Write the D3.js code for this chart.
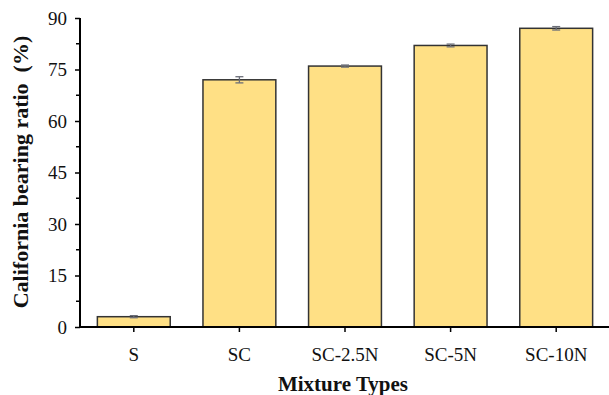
<!DOCTYPE html>
<html>
<head>
<meta charset="utf-8">
<script src="https://cdn.jsdelivr.net/npm/d3@7"></script>
<style>
  html, body { margin: 0; padding: 0; background: #fff; }
  svg { display: block; }
  text { font-family: "Liberation Serif", "Times New Roman", serif; fill: #111; }
</style>
</head>
<body>
<svg id="chart" width="609" height="395"></svg>
<script>
// CBR results per mixture
const categories = ["S", "SC", "SC-2.5N", "SC-5N", "SC-10N"];
const cbrValues = [3, 72, 76, 82, 87];
const cbrErrors = [0.3, 0.9, 0.3, 0.4, 0.5];
const yTicks = [0, 15, 30, 45, 60, 75, 90];
const yMinorTicks = [7.5, 22.5, 37.5, 52.5, 67.5, 82.5];

const svg = d3.select("#chart");
const margin = { top: 18, right: 0, bottom: 68, left: 81 };
const width = 609, height = 395;
const serif = "Liberation Serif, Times New Roman, serif";

const x = d3.scaleBand()
  .domain(categories)
  .range([margin.left, width - margin.right])
  .paddingInner(0.31)
  .paddingOuter(0.155);

const y = d3.scaleLinear()
  .domain([0, 90])
  .range([327, 18]);

const g = svg.append("g");

// bars
g.selectAll("rect.bar")
  .data(categories)
  .join("rect")
  .attr("class", "bar")
  .attr("x", d => x(d))
  .attr("y", (d, i) => y(cbrValues[i]))
  .attr("width", x.bandwidth())
  .attr("height", (d, i) => y(0) - y(cbrValues[i]))
  .attr("fill", "#FFE085")
  .attr("stroke", "#333")
  .attr("stroke-width", 1.5);

// error bars
const capW = 4;
const eb = g.selectAll("g.err")
  .data(categories)
  .join("g")
  .attr("class", "err")
  .attr("stroke", "#6b6e78")
  .attr("stroke-width", 1.3);
eb.append("line")
  .attr("x1", d => x(d) + x.bandwidth() / 2)
  .attr("x2", d => x(d) + x.bandwidth() / 2)
  .attr("y1", (d, i) => y(cbrValues[i] + cbrErrors[i]))
  .attr("y2", (d, i) => y(cbrValues[i] - cbrErrors[i]));
eb.append("line")
  .attr("x1", d => x(d) + x.bandwidth() / 2 - capW)
  .attr("x2", d => x(d) + x.bandwidth() / 2 + capW)
  .attr("y1", (d, i) => y(cbrValues[i] + cbrErrors[i]))
  .attr("y2", (d, i) => y(cbrValues[i] + cbrErrors[i]));
eb.append("line")
  .attr("x1", d => x(d) + x.bandwidth() / 2 - capW)
  .attr("x2", d => x(d) + x.bandwidth() / 2 + capW)
  .attr("y1", (d, i) => y(cbrValues[i] - cbrErrors[i]))
  .attr("y2", (d, i) => y(cbrValues[i] - cbrErrors[i]));

// y axis
const yAxis = g.append("g")
  .attr("transform", `translate(${margin.left - 1},0)`)
  .call(d3.axisLeft(y).tickValues(yTicks).tickSize(5).tickPadding(8).tickFormat(d3.format("d")));
yAxis.select(".domain").attr("stroke", "#000").attr("stroke-width", 2).attr("d", `M0,${y(90)}V${y(0) + 1}`);
yAxis.selectAll(".tick line").attr("stroke", "#000").attr("stroke-width", 1.5);
yAxis.selectAll(".tick text")
  .attr("font-family", serif)
  .attr("font-size", 19).attr("fill", "#111");
yAxis.selectAll("line.minor")
  .data(yMinorTicks)
  .join("line")
  .attr("class", "minor")
  .attr("x1", -4).attr("x2", 0)
  .attr("y1", d => y(d)).attr("y2", d => y(d))
  .attr("stroke", "#000").attr("stroke-width", 1.5);

// x axis
const xAxis = g.append("g")
  .attr("transform", `translate(0,${y(0)})`)
  .call(d3.axisBottom(x).tickSize(5).tickPadding(16));
xAxis.select(".domain").attr("stroke", "#000").attr("stroke-width", 2)
  .attr("d", `M${margin.left - 2},0H${width}`);
xAxis.selectAll(".tick line").attr("stroke", "#000").attr("stroke-width", 1.5);
xAxis.selectAll(".tick text")
  .attr("font-family", serif)
  .attr("font-size", 19).attr("fill", "#111");

// axis titles
svg.append("text")
  .attr("x", 343)
  .attr("y", 391)
  .attr("text-anchor", "middle")
  .attr("font-weight", "bold")
  .attr("font-size", 21)
  .text("Mixture Types");

svg.append("text")
  .attr("transform", `translate(28,172) rotate(-90)`)
  .attr("text-anchor", "middle")
  .attr("font-weight", "bold")
  .attr("font-size", 22)
  .style("white-space", "pre")
  .text("California bearing ratio  (%)");
</script>
</body>
</html>
